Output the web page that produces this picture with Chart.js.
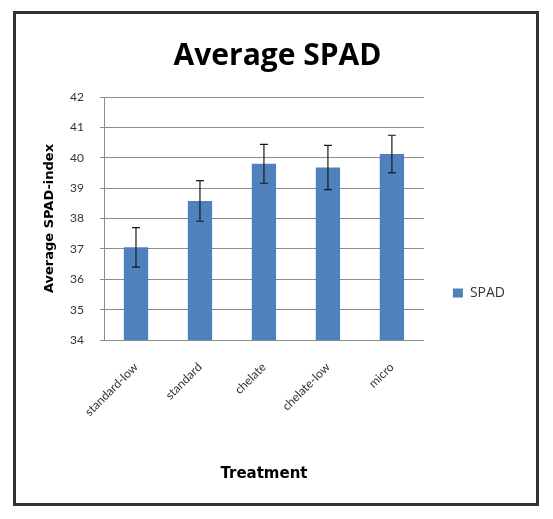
<!DOCTYPE html>
<html>
<head>
<meta charset="utf-8">
<script src="https://cdn.jsdelivr.net/npm/chart.js@4.4.1/dist/chart.umd.min.js"></script>
<style>
  html, body { margin: 0; padding: 0; background: #ffffff; }
  #frame { position: absolute; left: 13px; top: 11px; width: 520px; height: 489px; border: 3px solid #333333; background: #ffffff; }
  #c { display: block; }
</style>
</head>
<body>
<div id="frame"><canvas id="c" width="520" height="489"></canvas></div>
<script>
const categories = ["standard-low", "standard", "chelate", "chelate-low", "micro"];
const spadValues = [37.05, 38.58, 39.80, 39.68, 40.12];
const spadErrors = [0.65, 0.67, 0.64, 0.73, 0.62];
const yTicks = [34, 35, 36, 37, 38, 39, 40, 41, 42];

const FONT = "Lato, 'Open Sans', 'DejaVu Sans', sans-serif";
const WIDE = "'DejaVu Sans', sans-serif";

const errorBars = {
  id: 'errorBars',
  afterDatasetsDraw(chart) {
    const meta = chart.getDatasetMeta(0);
    const y = chart.scales.y;
    const ctx = chart.ctx;
    ctx.save();
    ctx.strokeStyle = '#1a1a1a';
    ctx.lineWidth = 1.2;
    meta.data.forEach((bar, i) => {
      const x = bar.x;
      const top = y.getPixelForValue(spadValues[i] + spadErrors[i]);
      const bot = y.getPixelForValue(spadValues[i] - spadErrors[i]);
      ctx.beginPath();
      ctx.moveTo(x, top); ctx.lineTo(x, bot);
      ctx.moveTo(x - 4, top); ctx.lineTo(x + 4, top);
      ctx.moveTo(x - 4, bot); ctx.lineTo(x + 4, bot);
      ctx.stroke();
    });
    ctx.restore();
  }
};

const legendShift = {
  id: 'legendShift',
  afterLayout(chart) {
    const lg = chart.legend;
    if (lg) {
      lg.top = chart.chartArea.top + 160;
    }
  }
};

new Chart(document.getElementById('c'), {
  type: 'bar',
  data: {
    labels: categories,
    datasets: [{
      label: 'SPAD',
      data: spadValues,
      backgroundColor: '#4F81BD',
      borderWidth: 0,
      barPercentage: 0.38,
      categoryPercentage: 1.0
    }]
  },
  options: {
    responsive: false,
    animation: false,
    layout: { padding: { left: 24, right: 21, top: 0, bottom: 20 } },
    plugins: {
      title: {
        display: true,
        text: 'Average SPAD',
        color: '#000000',
        font: { family: "'Open Sans', sans-serif", size: 30, weight: 'bold', lineHeight: 1.2 },
        padding: { top: 24, bottom: 23 }
      },
      legend: {
        display: true,
        position: 'right',
        align: 'start',
        labels: {
          boxWidth: 10,
          boxHeight: 9,
          padding: 29,
          color: '#333333',
          font: { family: "'Open Sans', sans-serif", size: 14 }
        }
      },
      tooltip: { enabled: false }
    },
    scales: {
      x: {
        afterFit(s) { s.height = 143; },
        grid: { display: false, drawTicks: false },
        border: { display: true, color: '#8c8c8c', width: 1 },
        ticks: {
          minRotation: 45, maxRotation: 45, padding: 20,
          color: '#333333',
          font: { family: FONT, size: 12 }
        },
        title: {
          display: true, text: 'Treatment', color: '#000000',
          font: { family: WIDE, size: 15, weight: 'bold' },
          padding: { top: 4, bottom: 0 }
        }
      },
      y: {
        min: 34, max: 42,
        afterFit(s) { s.width = 64; },
        afterBuildTicks(s) { s.ticks = yTicks.map(v => ({ value: v })); },
        grid: { color: '#8c8c8c', lineWidth: 1, drawTicks: true, tickLength: 4 },
        border: { display: true, color: '#8c8c8c', width: 1 },
        ticks: {
          padding: 16,
          color: '#333333',
          font: { family: FONT, size: 12 }
        },
        title: {
          display: true, text: 'Average SPAD-index', color: '#000000',
          font: { family: WIDE, size: 13, weight: 'bold' },
          padding: { top: 2, bottom: 4 }
        }
      }
    }
  },
  plugins: [errorBars, legendShift]
});
</script>
</body>
</html>
